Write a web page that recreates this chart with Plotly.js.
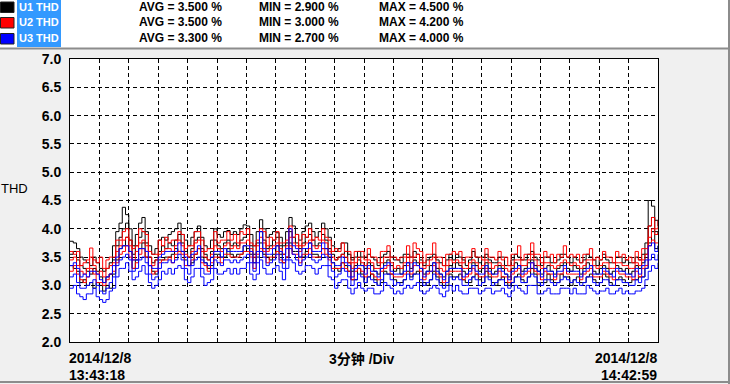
<!DOCTYPE html>
<html>
<head>
<meta charset="utf-8">
<script src="https://cdn.plot.ly/plotly-3.0.1.min.js"></script>
<style>
html,body{margin:0;padding:0;background:#f0f0f0;}
#chart{width:730px;height:384px;}
</style>
</head>
<body>
<div id="chart"></div>
<script>
// ---- data (THD %, one sample every 20 s from 13:43:18) ----
const seriesNames = ["U1 THD", "U2 THD", "U3 THD"];
const seriesColors = ["#000000", "#ff0000", "#0000ff"];
const statAvg = ["AVG = 3.500 %", "AVG = 3.500 %", "AVG = 3.300 %"];
const statMin = ["MIN = 2.900 %", "MIN = 3.000 %", "MIN = 2.700 %"];
const statMax = ["MAX = 4.500 %", "MAX = 4.200 %", "MAX = 4.000 %"];
const yTicks = [2.0, 2.5, 3.0, 3.5, 4.0, 4.5, 5.0, 5.5, 6.0, 6.5, 7.0];
const startLabel = ["2014/12/8", "13:43:18"];
const endLabel = ["2014/12/8", "14:42:59"];
const divLabel = "3分钟 /Div";
const stepMin = 1 / 3;

const u1Avg = [
3.55,3.60,3.45,3.35,3.30,3.25,3.20,3.30,3.25,3.15,
3.05,3.15,3.20,3.45,3.70,3.85,4.00,4.10,3.80,3.55,
3.70,3.85,3.95,3.75,3.50,3.40,3.45,3.60,3.70,3.65,
3.75,3.70,3.80,3.90,3.75,3.60,3.50,3.65,3.80,3.85,
3.65,3.55,3.45,3.60,3.80,3.70,3.65,3.75,3.80,3.70,
3.75,3.70,3.80,3.85,3.90,3.70,3.55,3.75,3.95,3.80,
3.65,3.70,3.80,3.85,3.70,3.55,3.75,3.95,3.85,3.75,
3.65,3.75,3.85,3.90,3.80,3.70,3.75,3.90,3.80,3.65,
3.55,3.45,3.50,3.55,3.60,3.40,3.25,3.35,3.45,3.35,
3.30,3.40,3.35,3.25,3.20,3.30,3.40,3.45,3.35,3.25,
3.30,3.20,3.35,3.40,3.30,3.45,3.40,3.30,3.20,3.25,
3.35,3.40,3.30,3.20,3.15,3.25,3.35,3.30,3.40,3.35,
3.25,3.20,3.30,3.40,3.35,3.25,3.30,3.40,3.30,3.20,
3.25,3.35,3.30,3.20,3.15,3.30,3.40,3.35,3.25,3.30,
3.40,3.45,3.35,3.25,3.20,3.30,3.35,3.25,3.20,3.30,
3.35,3.40,3.30,3.25,3.35,3.30,3.20,3.30,3.40,3.35,
3.25,3.20,3.30,3.35,3.30,3.20,3.25,3.35,3.30,3.25,
3.30,3.20,3.25,3.35,3.30,3.40,3.55,4.05,4.20,3.95,3.90];
const u1Max = [
3.78,3.75,3.65,3.50,3.45,3.40,3.35,3.50,3.40,3.30,
3.25,3.30,3.40,3.70,3.95,4.10,4.38,4.25,4.00,3.70,
3.90,4.10,4.20,3.95,3.70,3.55,3.65,3.80,3.85,3.80,
3.90,3.95,4.00,4.10,3.90,3.80,3.70,3.85,3.95,4.05,
3.85,3.70,3.65,3.80,4.00,3.90,3.85,3.95,3.97,3.90,
3.95,3.90,4.00,4.07,4.05,3.90,3.70,3.95,4.16,4.00,
3.85,3.90,3.95,3.93,3.85,3.70,3.95,4.20,4.05,3.90,
3.80,3.95,4.05,4.10,3.95,3.85,3.95,4.10,4.00,3.85,
3.70,3.60,3.65,3.75,3.75,3.55,3.45,3.50,3.60,3.50,
3.50,3.55,3.50,3.45,3.35,3.50,3.55,3.60,3.50,3.45,
3.45,3.40,3.55,3.55,3.50,3.60,3.55,3.45,3.35,3.45,
3.50,3.55,3.45,3.40,3.35,3.45,3.55,3.45,3.55,3.50,
3.45,3.35,3.45,3.60,3.50,3.40,3.50,3.55,3.45,3.40,
3.40,3.50,3.50,3.35,3.35,3.45,3.55,3.50,3.45,3.45,
3.55,3.60,3.50,3.45,3.35,3.50,3.50,3.40,3.40,3.45,
3.55,3.55,3.50,3.40,3.50,3.45,3.40,3.45,3.55,3.50,
3.45,3.35,3.45,3.55,3.45,3.40,3.40,3.50,3.50,3.40,
3.45,3.40,3.40,3.50,3.45,3.55,3.75,4.50,4.40,4.15,4.05];
const u1Min = [
3.35,3.30,3.25,3.05,3.10,3.00,3.05,2.95,3.05,3.00,
2.90,3.00,2.95,3.20,3.45,3.65,3.70,3.85,3.60,3.30,
3.45,3.65,3.75,3.50,3.35,3.25,3.20,3.45,3.45,3.50,
3.50,3.55,3.65,3.60,3.60,3.45,3.35,3.40,3.55,3.65,
3.50,3.40,3.30,3.35,3.55,3.55,3.50,3.50,3.65,3.55,
3.50,3.55,3.55,3.70,3.65,3.55,3.40,3.50,3.75,3.55,
3.50,3.45,3.55,3.70,3.55,3.40,3.50,3.75,3.60,3.60,
3.50,3.50,3.60,3.75,3.55,3.55,3.50,3.65,3.65,3.50,
3.40,3.30,3.25,3.40,3.35,3.25,3.10,3.10,3.30,3.20,
3.05,3.15,3.20,3.10,3.00,3.05,3.25,3.20,3.20,3.10,
3.05,3.05,3.10,3.25,3.15,3.20,3.25,3.05,3.05,3.00,
3.10,3.25,3.15,3.05,3.00,3.00,3.20,3.15,3.15,3.20,
3.10,3.05,3.05,3.15,3.20,3.10,3.05,3.25,3.15,3.05,
3.00,3.10,3.15,3.05,3.00,3.05,3.15,3.20,3.10,3.05,
3.15,3.30,3.20,3.00,3.05,3.05,3.20,3.10,3.05,3.05,
3.20,3.15,3.15,3.00,3.10,3.15,3.05,3.05,3.15,3.20,
3.10,3.05,3.05,3.20,3.15,3.05,3.00,3.10,3.15,3.10,
3.05,3.05,3.10,3.10,3.15,3.15,3.30,3.75,3.95,3.65,3.70];

const u2Avg = [
3.45,3.50,3.35,3.25,3.20,3.30,3.50,3.35,3.20,3.25,
3.15,3.30,3.35,3.40,3.60,3.70,3.80,3.85,3.70,3.45,
3.60,3.75,3.80,3.70,3.50,3.35,3.45,3.55,3.60,3.65,
3.65,3.60,3.70,3.80,3.70,3.55,3.50,3.60,3.75,3.80,
3.60,3.50,3.45,3.55,3.70,3.65,3.60,3.70,3.75,3.65,
3.70,3.65,3.75,3.75,3.80,3.65,3.50,3.70,3.85,3.75,
3.60,3.65,3.70,3.75,3.65,3.55,3.70,3.85,3.75,3.70,
3.60,3.70,3.75,3.80,3.70,3.65,3.70,3.80,3.75,3.60,
3.50,3.45,3.50,3.55,3.50,3.40,3.30,3.40,3.50,3.40,
3.35,3.45,3.40,3.30,3.30,3.40,3.50,3.50,3.40,3.30,
3.35,3.30,3.40,3.50,3.40,3.50,3.55,3.40,3.30,3.35,
3.45,3.50,3.40,3.30,3.25,3.35,3.45,3.40,3.45,3.40,
3.30,3.30,3.40,3.45,3.40,3.30,3.35,3.45,3.40,3.30,
3.35,3.40,3.35,3.30,3.25,3.35,3.45,3.45,3.35,3.35,
3.45,3.55,3.45,3.35,3.30,3.40,3.40,3.35,3.30,3.35,
3.40,3.45,3.40,3.35,3.40,3.35,3.30,3.35,3.45,3.45,
3.35,3.30,3.35,3.40,3.40,3.30,3.30,3.40,3.40,3.35,
3.35,3.30,3.30,3.40,3.35,3.45,3.55,3.85,4.00,3.90,3.95];
const u2Max = [
3.60,3.55,3.60,3.35,3.40,3.45,3.66,3.45,3.40,3.50,
3.30,3.45,3.50,3.50,3.80,3.80,3.95,4.00,3.80,3.65,
3.70,4.00,3.95,3.90,3.60,3.55,3.55,3.80,3.70,3.85,
3.75,3.80,3.80,3.95,3.90,3.65,3.70,3.70,3.95,3.95,
3.80,3.60,3.65,3.65,3.95,3.75,3.80,3.80,3.95,3.80,
3.90,3.75,3.95,3.90,4.00,3.75,3.70,3.80,4.00,3.95,
3.70,3.85,3.80,3.95,3.75,3.75,3.80,4.05,3.85,3.90,
3.70,3.90,3.85,4.00,3.80,3.85,3.80,4.00,3.85,3.80,
3.60,3.65,3.60,3.75,3.60,3.60,3.40,3.60,3.60,3.60,
3.45,3.65,3.50,3.50,3.40,3.60,3.60,3.70,3.50,3.50,
3.45,3.50,3.50,3.70,3.50,3.75,3.65,3.60,3.40,3.55,
3.55,3.75,3.50,3.50,3.35,3.55,3.55,3.60,3.55,3.60,
3.40,3.50,3.50,3.65,3.50,3.50,3.45,3.65,3.50,3.50,
3.45,3.60,3.45,3.50,3.35,3.55,3.55,3.70,3.45,3.55,
3.55,3.75,3.55,3.55,3.40,3.60,3.50,3.55,3.40,3.55,
3.50,3.70,3.50,3.55,3.50,3.55,3.40,3.55,3.55,3.65,
3.45,3.50,3.45,3.60,3.50,3.50,3.40,3.60,3.50,3.55,
3.45,3.50,3.40,3.60,3.45,3.65,3.65,4.05,4.20,4.00,4.15];
const u2Min = [
3.25,3.35,3.20,3.10,3.05,3.15,3.30,3.20,3.05,3.05,
3.00,3.10,3.20,3.25,3.40,3.55,3.60,3.70,3.50,3.30,
3.40,3.55,3.65,3.50,3.35,3.20,3.25,3.40,3.45,3.45,
3.50,3.40,3.55,3.60,3.55,3.35,3.35,3.45,3.55,3.65,
3.40,3.35,3.25,3.40,3.50,3.50,3.40,3.55,3.55,3.50,
3.50,3.50,3.55,3.60,3.60,3.50,3.30,3.55,3.65,3.60,
3.40,3.50,3.50,3.60,3.45,3.40,3.50,3.70,3.55,3.55,
3.40,3.55,3.55,3.65,3.50,3.50,3.50,3.65,3.55,3.45,
3.30,3.30,3.30,3.40,3.30,3.25,3.10,3.25,3.30,3.25,
3.15,3.30,3.20,3.15,3.10,3.25,3.30,3.35,3.20,3.15,
3.15,3.15,3.20,3.35,3.20,3.35,3.35,3.25,3.10,3.20,
3.25,3.35,3.20,3.15,3.05,3.20,3.25,3.25,3.25,3.25,
3.10,3.15,3.20,3.30,3.20,3.15,3.15,3.30,3.20,3.15,
3.15,3.25,3.15,3.15,3.05,3.20,3.25,3.30,3.15,3.20,
3.25,3.40,3.25,3.20,3.10,3.25,3.20,3.20,3.10,3.20,
3.20,3.30,3.20,3.20,3.20,3.20,3.10,3.20,3.25,3.30,
3.15,3.15,3.15,3.25,3.20,3.15,3.10,3.25,3.20,3.20,
3.15,3.15,3.10,3.25,3.15,3.30,3.35,3.70,3.80,3.75,3.75];

const u3Avg = [
3.15,3.20,3.05,2.95,2.95,3.00,3.05,3.10,3.00,2.90,
2.85,2.95,3.05,3.15,3.35,3.45,3.50,3.55,3.45,3.25,
3.30,3.45,3.50,3.40,3.20,3.10,3.15,3.30,3.40,3.40,
3.45,3.40,3.45,3.55,3.45,3.30,3.20,3.35,3.45,3.50,
3.30,3.20,3.20,3.30,3.45,3.40,3.35,3.45,3.45,3.40,
3.45,3.40,3.45,3.50,3.55,3.40,3.25,3.40,3.60,3.50,
3.35,3.40,3.45,3.55,3.40,3.30,3.45,3.65,3.55,3.45,
3.35,3.45,3.50,3.55,3.45,3.40,3.45,3.55,3.50,3.35,
3.25,3.15,3.20,3.30,3.25,3.15,3.00,3.10,3.20,3.15,
3.05,3.15,3.10,3.05,3.00,3.10,3.20,3.20,3.10,3.00,
3.05,3.00,3.10,3.20,3.10,3.20,3.20,3.10,3.00,3.05,
3.10,3.20,3.10,3.00,2.95,3.05,3.15,3.10,3.15,3.10,
3.00,3.00,3.10,3.15,3.10,3.00,3.05,3.15,3.10,3.00,
3.05,3.10,3.10,3.00,2.95,3.05,3.15,3.15,3.05,3.05,
3.15,3.20,3.15,3.05,3.00,3.10,3.10,3.05,3.00,3.05,
3.10,3.15,3.10,3.05,3.10,3.05,3.00,3.05,3.15,3.15,
3.05,3.00,3.05,3.10,3.10,3.00,3.00,3.10,3.10,3.05,
3.05,3.00,3.00,3.10,3.05,3.15,3.30,3.45,3.55,3.45,3.55];
const u3Max = [
3.35,3.40,3.30,3.15,3.20,3.15,3.25,3.25,3.20,3.10,
3.05,3.15,3.20,3.35,3.50,3.65,3.70,3.70,3.60,3.45,
3.45,3.65,3.65,3.60,3.35,3.30,3.30,3.50,3.55,3.60,
3.60,3.60,3.60,3.75,3.60,3.50,3.35,3.55,3.60,3.70,
3.45,3.40,3.35,3.50,3.60,3.60,3.50,3.65,3.60,3.60,
3.60,3.60,3.60,3.70,3.70,3.60,3.40,3.60,3.95,3.65,
3.55,3.55,3.65,3.70,3.60,3.45,3.65,4.00,3.70,3.65,
3.50,3.65,3.65,3.75,3.60,3.60,3.60,3.75,3.65,3.55,
3.40,3.35,3.35,3.50,3.40,3.35,3.15,3.30,3.35,3.35,
3.20,3.35,3.25,3.25,3.15,3.30,3.35,3.40,3.25,3.20,
3.20,3.20,3.25,3.40,3.25,3.40,3.35,3.30,3.15,3.25,
3.25,3.40,3.25,3.20,3.10,3.25,3.30,3.30,3.30,3.30,
3.15,3.20,3.25,3.35,3.25,3.20,3.20,3.35,3.25,3.20,
3.20,3.30,3.25,3.20,3.10,3.25,3.30,3.35,3.20,3.25,
3.30,3.40,3.30,3.25,3.15,3.30,3.25,3.25,3.15,3.25,
3.25,3.35,3.25,3.25,3.25,3.25,3.15,3.25,3.30,3.35,
3.20,3.20,3.20,3.30,3.25,3.20,3.15,3.30,3.25,3.25,
3.20,3.20,3.15,3.30,3.20,3.35,3.45,3.70,3.75,3.60,3.70];
const u3Min = [
2.95,3.00,2.85,2.80,2.75,2.85,2.85,2.95,2.80,2.75,
2.70,2.75,2.90,2.95,3.15,3.30,3.30,3.40,3.25,3.10,
3.15,3.25,3.35,3.20,3.05,2.95,3.00,3.10,3.25,3.20,
3.30,3.20,3.30,3.35,3.30,3.10,3.05,3.15,3.30,3.30,
3.15,3.00,3.05,3.10,3.30,3.20,3.20,3.25,3.30,3.20,
3.30,3.20,3.30,3.30,3.40,3.20,3.10,3.20,3.45,3.30,
3.20,3.20,3.30,3.35,3.25,3.10,3.30,3.45,3.40,3.25,
3.20,3.25,3.35,3.35,3.30,3.20,3.30,3.35,3.35,3.15,
3.10,2.95,3.05,3.10,3.10,2.95,2.85,2.95,3.05,2.95,
2.90,2.95,2.95,2.85,2.85,2.90,3.05,3.00,2.95,2.85,
2.90,2.85,2.95,3.00,2.95,3.00,3.05,2.90,2.85,2.90,
2.95,3.00,2.95,2.85,2.80,2.90,3.00,2.90,3.00,2.90,
2.85,2.85,2.95,2.95,2.95,2.85,2.90,2.95,2.95,2.85,
2.90,2.90,2.95,2.85,2.80,2.90,3.00,2.95,2.90,2.85,
3.00,3.00,3.00,2.85,2.85,2.90,2.95,2.85,2.85,2.85,
2.95,2.95,2.95,2.85,2.95,2.85,2.85,2.85,3.00,2.95,
2.90,2.85,2.90,2.90,2.95,2.85,2.85,2.90,2.95,2.85,
2.90,2.85,2.85,2.90,2.90,2.95,3.10,3.25,3.35,3.30,3.40];

const phaseLines = [[u1Max, u1Avg, u1Min], [u2Max, u2Avg, u2Min], [u3Max, u3Avg, u3Min]];

// ---- layout helpers (pixel -> paper) ----
const L = 70, R = 658, T = 59, B = 342;
const px = x => (x - L) / (R - L);
const py = y => (B - y) / (B - T);

const traces = [];
phaseLines.forEach((lines, k) => {
  lines.forEach(vals => {
    traces.push({
      type: 'scatter', mode: 'lines',
      x: vals.map((_, i) => i * stepMin), y: vals,
      line: {color: seriesColors[k], width: 1, shape: 'hv'},
      hoverinfo: 'skip', showlegend: false
    });
  });
});

const F = 'Liberation Sans, Arial, sans-serif';
const shapes = [
  {type: 'rect', xref: 'paper', yref: 'paper', x0: px(0), x1: px(728), y0: py(48), y1: py(0), fillcolor: '#ffffff', line: {width: 0}, layer: 'above'},
  {type: 'line', xref: 'paper', yref: 'paper', x0: px(0), x1: px(730), y0: py(48.5), y1: py(48.5), line: {color: '#8c8c8c', width: 2}, layer: 'above'},
  {type: 'line', xref: 'paper', yref: 'paper', x0: px(0), x1: px(730), y0: py(382), y1: py(382), line: {color: '#8c8c8c', width: 2}, layer: 'above'},
  {type: 'line', xref: 'paper', yref: 'paper', x0: px(729), x1: px(729), y0: py(0), y1: py(384), line: {color: '#8c8c8c', width: 2}, layer: 'above'},
  {type: 'rect', xref: 'paper', yref: 'paper', x0: px(17), x1: px(61), y0: py(47), y1: py(0), fillcolor: '#3399ff', line: {width: 0}, layer: 'above'}
];
const rowY = [7, 22.5, 38.5];
const annotations = [];
seriesColors.forEach((c, k) => {
  shapes.push({type: 'rect', xref: 'paper', yref: 'paper', x0: px(0.5), x1: px(14), y0: py(rowY[k] + 5.5), y1: py(rowY[k] - 5), fillcolor: c, line: {color: '#202020', width: 1}, layer: 'above'});
  annotations.push({xref: 'paper', yref: 'paper', x: px(17), y: py(rowY[k]), xanchor: 'left', yanchor: 'middle', showarrow: false, text: '<b>' + seriesNames[k] + '</b>', font: {family: F, size: 11, color: '#ffffff'}});
  annotations.push({xref: 'paper', yref: 'paper', x: px(137), y: py(rowY[k]), xanchor: 'left', yanchor: 'middle', showarrow: false, text: '<b>' + statAvg[k] + '</b>', font: {family: F, size: 12, color: '#000000'}});
  annotations.push({xref: 'paper', yref: 'paper', x: px(257), y: py(rowY[k]), xanchor: 'left', yanchor: 'middle', showarrow: false, text: '<b>' + statMin[k] + '</b>', font: {family: F, size: 12, color: '#000000'}});
  annotations.push({xref: 'paper', yref: 'paper', x: px(377), y: py(rowY[k]), xanchor: 'left', yanchor: 'middle', showarrow: false, text: '<b>' + statMax[k] + '</b>', font: {family: F, size: 12, color: '#000000'}});
});
annotations.push({xref: 'paper', yref: 'paper', x: px(-1), y: py(188), xanchor: 'left', yanchor: 'middle', showarrow: false, text: 'THD', font: {family: F, size: 13, color: '#000000'}});
annotations.push({xref: 'paper', yref: 'paper', x: px(67), y: py(357.5), xanchor: 'left', yanchor: 'middle', showarrow: false, text: '<b>' + startLabel[0] + '</b>', font: {family: F, size: 14, color: '#000000'}});
annotations.push({xref: 'paper', yref: 'paper', x: px(67), y: py(375), xanchor: 'left', yanchor: 'middle', showarrow: false, text: '<b>' + startLabel[1] + '</b>', font: {family: F, size: 14, color: '#000000'}});
annotations.push({xref: 'paper', yref: 'paper', x: px(659), y: py(357.5), xanchor: 'right', yanchor: 'middle', showarrow: false, text: '<b>' + endLabel[0] + '</b>', font: {family: F, size: 14, color: '#000000'}});
annotations.push({xref: 'paper', yref: 'paper', x: px(659), y: py(375), xanchor: 'right', yanchor: 'middle', showarrow: false, text: '<b>' + endLabel[1] + '</b>', font: {family: F, size: 14, color: '#000000'}});
annotations.push({xref: 'paper', yref: 'paper', x: px(362), y: py(359), xanchor: 'center', yanchor: 'middle', showarrow: false, text: '<b>' + divLabel + '</b>', font: {family: 'Liberation Sans, Noto Sans CJK SC, sans-serif', size: 14, color: '#000000'}});

const layout = {
  width: 730, height: 384,
  margin: {l: L, r: 730 - R, t: T, b: 384 - B, pad: 0},
  paper_bgcolor: '#f0f0f0', plot_bgcolor: '#ffffff',
  showlegend: false,
  xaxis: {
    range: [0, 60], tick0: 0, dtick: 3, showticklabels: false,
    ticks: 'inside', ticklen: 4, tickcolor: '#000000', tickwidth: 1,
    showgrid: true, gridcolor: '#000000', gridwidth: 1, griddash: '4px,3px',
    showline: true, linecolor: '#000000', linewidth: 1, mirror: true, zeroline: false, fixedrange: true
  },
  yaxis: {
    range: [2, 7], tickvals: yTicks, ticktext: yTicks.map(v => '<b>' + v.toFixed(1) + '</b>'),
    ticks: '', ticklabelstandoff: 5,
    tickfont: {family: F, size: 14, color: '#000000'},
    showgrid: true, gridcolor: '#000000', gridwidth: 1, griddash: '4px,3px',
    showline: true, linecolor: '#000000', linewidth: 1, mirror: true, zeroline: false, fixedrange: true
  },
  shapes: shapes,
  annotations: annotations
};

Plotly.newPlot('chart', traces, layout, {displayModeBar: false, staticPlot: true});
</script>
</body>
</html>
